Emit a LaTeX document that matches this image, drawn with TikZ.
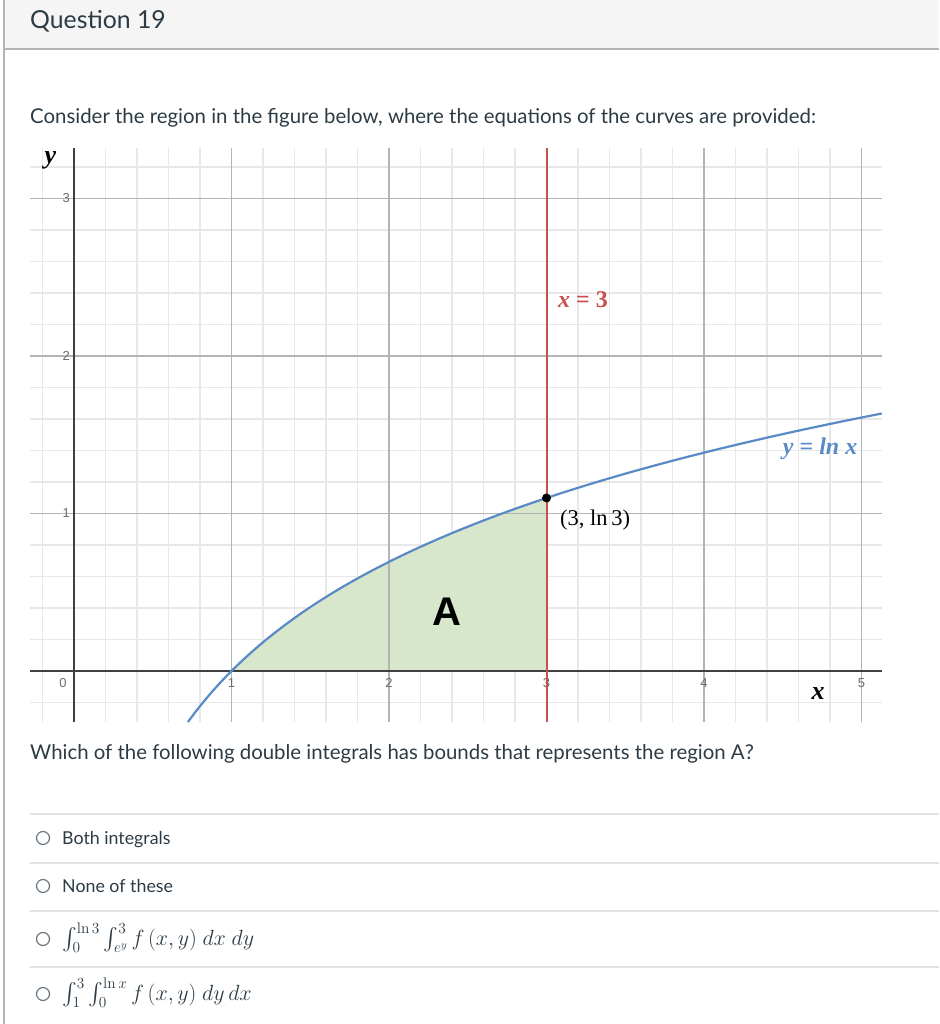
\RequirePackage{fix-cm}
\documentclass[tikz,border=0pt]{standalone}
\usepackage{amsmath, amssymb}
\usepackage[no-math]{fontspec}
\setmainfont{Lato}
\newfontfamily\tickfont{Liberation Sans}
\newfontfamily\eqfont{Liberation Serif}
\usepackage{tikz}
\usetikzlibrary{positioning}

\definecolor{canvastext}{HTML}{2D3B45}
\definecolor{headfill}{HTML}{F5F5F5}
\definecolor{framegray}{HTML}{B4B4B4}
\definecolor{rulegray}{HTML}{E2E2E2}
\definecolor{minorgrid}{HTML}{E8E8E8}
\definecolor{majorgrid}{HTML}{B4B4B4}
\definecolor{axisgray}{HTML}{404040}
\definecolor{lnblue}{HTML}{5A8AC6}
\definecolor{linered}{HTML}{C9504C}
\definecolor{regiongreen}{HTML}{D8E7CB}
\definecolor{radiogray}{HTML}{6B7780}

\tikzset{
    ticklabel/.style={font=\tickfont\fontsize{13}{15}\selectfont, text=gray!85!black, inner sep=0pt},
    eqlabel/.style={font=\eqfont\bfseries\fontsize{24}{28}\selectfont, inner sep=0pt},
    radio/.style={circle, draw=radiogray, line width=1.2pt, minimum size=13pt, inner sep=0pt},
    answer/.style={anchor=base west, inner sep=0pt, text=canvastext, font=\fontsize{17.8}{21}\selectfont}
}

\begin{document}
\begin{tikzpicture}[x=1pt, y=-1pt]
            \useasboundingbox (0,0) rectangle (939,1024);
            \fill[white] (0,0) rectangle (939,1024);

            % header and frame
            \fill[headfill] (4,0) rectangle (939,49);
            \draw[framegray, line width=2pt] (4,49) -- (939,49);
            \draw[framegray, line width=2pt] (4,0) -- (4,1024);

            \begin{scope}[every node/.style={anchor=base west, inner sep=0pt, text=canvastext}]
                \node[font=\fontsize{24.8}{30}\selectfont] (title) at (30,29) {Question 19};
                \node[font=\fontsize{20.4}{24}\selectfont] (intro) at (30,124) {Consider the region in the figure below, where the equations of the curves are provided:};
                \node[font=\fontsize{20.4}{24}\selectfont] (ask) at (30,759) {Which of the following double integrals has bounds that represents the region A?};
            \end{scope}

            % graph
            \begin{scope}[shift={(74,671)}, x=157.5pt, y=157.5pt]
                \foreach \i in {-1,...,25}
                    \draw[minorgrid, line width=1.2pt] (\i/5,-0.324) -- (\i/5,3.32);
                \foreach \j in {-1,...,16}
                    \draw[minorgrid, line width=1.2pt] (-0.279,\j/5) -- (5.13,\j/5);

                \fill[regiongreen] (1,0) -- plot[domain=1:3, samples=60, smooth] (\x,{ln(\x)}) -- (3,0) -- cycle;

                \foreach \i in {1,...,5}
                    \draw[majorgrid, line width=1.2pt] (\i,-0.324) -- (\i,3.32);
                \foreach \j in {1,...,3}
                    \draw[majorgrid, line width=1.2pt] (-0.279,\j) -- (5.13,\j);
                \draw[axisgray, line width=2pt] (-0.279,0) -- (5.13,0);
                \draw[axisgray, line width=2pt] (0,-0.324) -- (0,3.32);

                \node[ticklabel] (t0) at (-0.07,-0.076) {0};
                \foreach \i in {1,...,5}
                    \node[ticklabel] (tx\i) at (\i,-0.076) {\i};
                \foreach \j in {1,...,3}
                    \node[ticklabel] (ty\j) at (-0.05,\j) {\j};

                \draw[linered, line width=2pt] (3,-0.324) -- (3,3.32);
                \draw[lnblue, line width=2.2pt] plot[domain=0.7232:5.13, samples=120, smooth] (\x,{ln(\x)});
                \node[circle, fill=black, inner sep=0pt, minimum size=9pt] (P) at (3,{ln(3)}) {};

                \node[eqlabel, font=\eqfont\bfseries\itshape\fontsize{26}{30}\selectfont] (ylab) at (-0.15,3.244) {y};
                \node[eqlabel, font=\eqfont\bfseries\itshape\fontsize{26}{30}\selectfont] (xlab) at (4.724,-0.14) {x};
                \node[eqlabel, text=linered] (eqred) at (3.232,2.356) {\textit{x} = 3};
                \node[eqlabel, text=lnblue] (eqblue) at (4.737,1.41) {\textit{y} = \textit{ln x}};
                \node[font=\eqfont\fontsize{22.5}{26}\selectfont, inner sep=0pt] (Plab) at (3.308,0.959) {(3, ln\,3)};
                \node[font=\tickfont\bfseries\fontsize{40}{46}\selectfont] (A) at (2.368,0.375) {A};
            \end{scope}

            % answers
            \foreach \ry in {814,863,911,967}
                \draw[rulegray, line width=1.5pt] (30,\ry) -- (939,\ry);

            \begin{scope}[every node/.style={answer}]
                \node[radio, anchor=center] (r1) at (43,838) {};
                \node (o1) at (62,844) {Both integrals};
                \node[radio, anchor=center] (r2) at (43,886) {};
                \node (o2) at (62,892) {None of these};
                \node[radio, anchor=center] (r3) at (43,939) {};
                \node[font=\fontsize{22}{26}\selectfont] (o3) at (62,945) {$\int_0^{\ln 3}\int_{e^y}^{3} f\,(x,y)\ dx\ dy$};
                \node[radio, anchor=center] (r4) at (43,994) {};
                \node[font=\fontsize{22}{26}\selectfont] (o4) at (62,1000) {$\int_1^{3}\int_0^{\ln x} f\,(x,y)\ dy\,dx$};
            \end{scope}

\end{tikzpicture}
\end{document}
